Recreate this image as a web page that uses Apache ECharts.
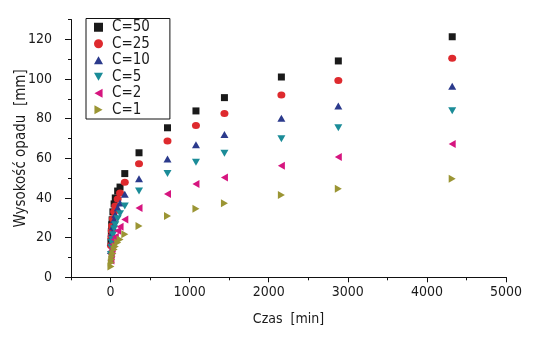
<!DOCTYPE html>
<html><head><meta charset="utf-8">
<script src="https://cdn.jsdelivr.net/npm/echarts@6/dist/echarts.min.js"></script>
<style>html,body{margin:0;padding:0;background:#fff}#c{width:543px;height:341px}</style>
</head><body><div id="c"></div>
<script>
const times = [5, 10, 15, 20, 30, 45, 60, 90, 120, 180, 360, 720, 1080, 1440, 2160, 2880, 4320];
const c50 = [18, 23, 26.5, 29, 33, 37, 40, 43.5, 45.5, 52.3, 62.8, 75.4, 83.9, 90.6, 101, 109.1, 121.3];
const c25 = [16, 20.5, 23.5, 26, 29.5, 33, 36, 39.5, 42.5, 47.9, 57.3, 68.7, 76.6, 82.6, 91.9, 99.3, 110.4];
const c10 = [13.5, 17.5, 20.5, 22.5, 25.5, 29, 31.5, 35, 37.5, 41.9, 49.7, 59.7, 66.9, 72, 80.2, 86.4, 96.3];
const c5  = [11.5, 15, 17.5, 19, 21.5, 24.5, 26.5, 29.5, 32, 35.9, 43.5, 52.4, 58, 62.6, 69.9, 75.4, 84];
const c2  = [8.5, 11.5, 13.5, 14.5, 16.5, 19, 20.5, 23.5, 25.5, 29.2, 35, 42, 47, 50.3, 56.3, 60.7, 67.2];
const c1  = [5.5, 7.5, 9, 10.5, 12, 14, 15.5, 17.5, 19, 21.7, 25.9, 30.9, 34.6, 37.3, 41.5, 44.7, 49.7];
const seriesNames = ['C=50', 'C=25', 'C=10', 'C=5', 'C=2', 'C=1'];
const xMajorTicks = [0, 1000, 2000, 3000, 4000, 5000];
const yMajorTicks = [0, 20, 40, 60, 80, 100, 120];

const FONT = "'Liberation Sans Narrow','DejaVu Sans Condensed',Arial,sans-serif";
const values = [c50, c25, c10, c5, c2, c1];
const colors = ['#1a1a1a', '#de2a2e', '#2b3a8c', '#1b8c98', '#d6157f', '#9b9534'];
const symbols = ['rect', 'circle', 'path://M5,0L10,9L0,9Z', 'path://M0,0L10,0L5,9Z', 'path://M9,0L9,10L0,5Z', 'path://M0,0L0,10L9,5Z'];
const sizes = [[7, 7], [8, 7], [8, 7], [8, 7], [7, 8], [7, 8]];

const series = values.map((v, i) => ({
  name: seriesNames[i],
  type: 'scatter',
  symbol: symbols[i],
  symbolSize: sizes[i],
  itemStyle: { color: colors[i], opacity: 1 },
  data: times.map((t, j) => [t, v[j]])
}));

const chart = echarts.init(document.getElementById('c'), null, { renderer: 'canvas' });
chart.setOption({
  animation: false,
  backgroundColor: '#fff',
  textStyle: { fontFamily: FONT },
  grid: { left: 71, right: 37, top: 19.5, bottom: 63.7, containLabel: false, outerBoundsMode: 'none' },
  legend: {
    orient: 'vertical',
    left: 86, top: 18.5,
    padding: [0.5, 20, 1, 8],
    itemGap: 0,
    itemWidth: 9, itemHeight: 9,
    borderColor: '#111', borderWidth: 1,
    textStyle: { fontFamily: FONT, fontSize: 15, color: '#1a1a1a', lineHeight: 11.5, padding: [5, 0, 0, 4] },
    data: seriesNames.map((n, i) => ({ name: n, icon: symbols[i], itemStyle: { color: colors[i], opacity: 1 } }))
  },
  xAxis: [{
    type: 'value', min: -500, max: 5000, interval: 500,
    name: 'Czas  [min]', nameLocation: 'middle', nameGap: 35, nameMoveOverlap: false,
    nameTextStyle: { fontFamily: FONT, fontSize: 14, color: '#1a1a1a' },
    axisLine: { onZero: false, lineStyle: { color: '#111', width: 1 } },
    axisTick: { length: 3, lineStyle: { color: '#111' } },
    axisLabel: { customValues: xMajorTicks, formatter: v => String(v), fontFamily: FONT, fontSize: 14, color: '#1a1a1a', margin: 8 },
    splitLine: { show: false }
  }, {
    type: 'value', min: -500, max: 5000, position: 'bottom', gridIndex: 0,
    axisLine: { show: false, onZero: false },
    axisTick: { customValues: xMajorTicks, length: 5, lineStyle: { color: '#111' } },
    axisLabel: { show: false },
    splitLine: { show: false }
  }],
  yAxis: [{
    type: 'value', min: 0, max: 130, interval: 10,
    name: 'Wysokość opadu  [mm]', nameLocation: 'middle', nameGap: 42, nameMoveOverlap: false,
    nameTextStyle: { fontFamily: FONT, fontSize: 15, color: '#1a1a1a' },
    axisLine: { onZero: false, lineStyle: { color: '#111', width: 1 } },
    axisTick: { length: 3, lineStyle: { color: '#111' } },
    axisLabel: { customValues: yMajorTicks, formatter: v => String(v), fontFamily: FONT, fontSize: 14, color: '#1a1a1a', margin: 19 },
    splitLine: { show: false }
  }, {
    type: 'value', min: 0, max: 130, position: 'left', gridIndex: 0, offset: 0,
    axisLine: { show: false, onZero: false },
    axisTick: { customValues: yMajorTicks, length: 6, lineStyle: { color: '#111' } },
    axisLabel: { show: false },
    splitLine: { show: false }
  }],
  series: series
});
</script></body></html>
